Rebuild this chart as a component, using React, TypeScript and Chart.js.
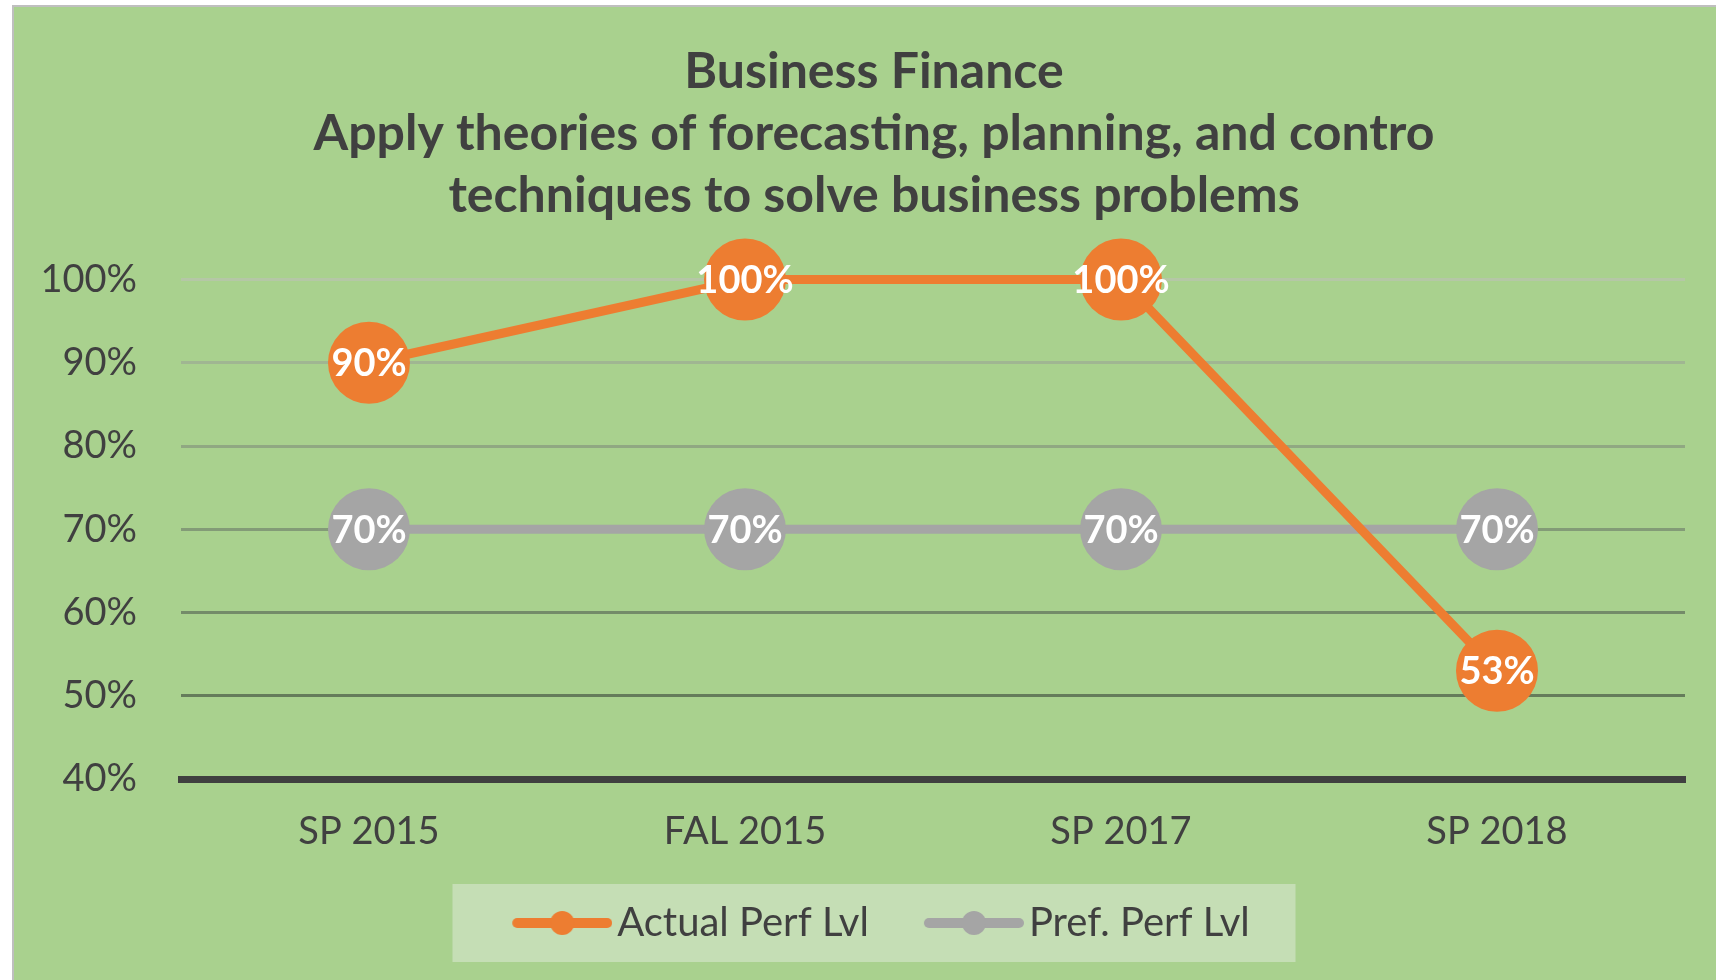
import React, { useEffect, useRef } from "react";
import { Chart, registerables } from "chart.js";

Chart.register(...registerables);

const categories = ["SP 2015", "FAL 2015", "SP 2017", "SP 2018"];
const actualPerf = [90, 100, 100, 53];
const prefPerf = [70, 70, 70, 70];
const seriesNames = ["Actual Perf Lvl", "Pref. Perf Lvl"];
const titleLines = [
  "Business Finance",
  "Apply theories of forecasting, planning, and contro",
  "techniques to solve business problems",
];
const yMin = 40;
const yMax = 100;
const yStep = 10;

const ORANGE = "#ED7D31";
const GRAY = "#A5A5A5";
const TEXT = "#404040";
const GREEN = "#A9D18E";
const LEGEND_BG = "#C5DEB5";
const gridColors = ["rgba(0,0,0,0)", "#657c5b", "#748b69", "#839b77", "#90a882", "#a0b692", "#b5c7a6"];

const W = 1720;
const H = 966;
const BOTTOM_PAD = 20;
const LEGEND_PAD = 55;
const LEGEND_FONT = 40;
const MARKER_SHIFT = 15;
const LEGEND_NUDGE = 7;

function makeLegendMarker(color: string) {
  const c = document.createElement("canvas");
  c.width = 100 + MARKER_SHIFT;
  c.height = 30;
  const ctx = c.getContext("2d")!;
  const x0 = MARKER_SHIFT;
  ctx.strokeStyle = color;
  ctx.lineWidth = 10;
  ctx.lineCap = "round";
  ctx.beginPath();
  ctx.moveTo(x0 + 5, 15);
  ctx.lineTo(x0 + 95, 15);
  ctx.stroke();
  ctx.fillStyle = color;
  ctx.beginPath();
  ctx.arc(x0 + 50, 15, 12, 0, Math.PI * 2);
  ctx.fill();
  return c;
}

const legendBgPlugin = {
  id: "legendBg",
  afterLayout(chart: any) {
    const lg = chart.legend;
    if (!lg) return;
    lg.left += LEGEND_NUDGE;
    lg.right += LEGEND_NUDGE;
  },
  beforeDraw(chart: any) {
    const lg = chart.legend;
    if (!lg) return;
    const ctx = chart.ctx;
    const cx = (lg.left + lg.right) / 2 - LEGEND_NUDGE;
    const cy = lg.top + LEGEND_PAD + LEGEND_FONT / 2;
    ctx.save();
    ctx.fillStyle = LEGEND_BG;
    ctx.fillRect(cx - 421.5, cy - 39, 843, 78);
    ctx.restore();
  },
};

const pointLabelPlugin = {
  id: "pointLabels",
  afterDatasetsDraw(chart: any) {
    const ctx = chart.ctx;
    ctx.save();
    ctx.font = "bold 38px Lato";
    ctx.fillStyle = "#FFFFFF";
    ctx.textAlign = "center";
    ctx.textBaseline = "middle";
    chart.data.datasets.forEach((ds: any, di: number) => {
      const meta = chart.getDatasetMeta(di);
      meta.data.forEach((el: any, i: number) => {
        ctx.fillText(ds.data[i] + "%", el.x, el.y + 1);
      });
    });
    ctx.restore();
  },
};

export default function App() {
  const ref = useRef<HTMLCanvasElement>(null);
  useEffect(() => {
    const canvas = ref.current!;
    const markers = [makeLegendMarker(ORANGE), makeLegendMarker(GRAY)];
    const chart = new Chart(canvas, {
      type: "line",
      data: {
        labels: categories,
        datasets: [
          {
            label: seriesNames[0],
            data: actualPerf,
            borderColor: ORANGE,
            backgroundColor: ORANGE,
            borderWidth: 9,
            pointRadius: 41,
            pointHoverRadius: 41,
            pointBackgroundColor: ORANGE,
            pointBorderWidth: 0,
            pointStyle: "circle",
            clip: false,
            tension: 0,
          },
          {
            label: seriesNames[1],
            data: prefPerf,
            borderColor: GRAY,
            backgroundColor: GRAY,
            borderWidth: 9,
            pointRadius: 41,
            pointHoverRadius: 41,
            pointBackgroundColor: GRAY,
            pointBorderWidth: 0,
            pointStyle: "circle",
            clip: false,
            tension: 0,
          },
        ],
      },
      options: {
        responsive: false,
        maintainAspectRatio: false,
        animation: false,
        devicePixelRatio: 1,
        events: [],
        layout: { padding: { left: 49, right: 49, top: 0, bottom: BOTTOM_PAD } },
        plugins: {
          title: {
            display: true,
            text: titleLines,
            color: TEXT,
            font: { family: "Lato", size: 50, weight: "bold", lineHeight: 62 / 50 },
            padding: { top: 34, bottom: 52.5 },
          },
          legend: {
            position: "bottom",
            labels: {
              usePointStyle: true,
              pointStyleWidth: 70 + MARKER_SHIFT,
              padding: LEGEND_PAD,
              color: TEXT,
              font: { family: "Lato", size: LEGEND_FONT },
              generateLabels: (c: any) => {
                const items = (Chart.defaults.plugins.legend.labels as any).generateLabels(c);
                items.forEach((it: any, i: number) => {
                  it.pointStyle = markers[i];
                });
                return items;
              },
            },
          },
          tooltip: { enabled: false },
        },
        scales: {
          x: {
            offset: true,
            grid: { display: false, drawTicks: false },
            border: { display: true, color: TEXT, width: 7 },
            ticks: { color: TEXT, font: { family: "Lato", size: 38 }, padding: 30 },
            afterFit: (s: any) => {
              s.height = 69;
              s._computeLabelArea = () => null;
            },
          },
          y: {
            min: yMin,
            max: yMax,
            ticks: {
              stepSize: yStep,
              callback: (v: any) => v + "%",
              color: TEXT,
              font: { family: "Lato", size: 38 },
              padding: 44,
            },
            grid: {
              color: (ctx: any) => gridColors[ctx.index] || gridColors[gridColors.length - 1],
              lineWidth: 3,
              drawTicks: false,
            },
            border: { display: false },
            afterFit: (s: any) => {
              s.width = 118;
              s._computeLabelArea = () => null;
            },
          },
        },
      } as any,
      plugins: [legendBgPlugin, pointLabelPlugin],
    });
    return () => chart.destroy();
  }, []);

  return (
    <div
      style={{
        position: "fixed",
        left: 0,
        top: 0,
        width: "100vw",
        height: "100vh",
        overflow: "hidden",
        background: "#FFFFFF",
      }}
    >
      <div
        style={{
          position: "absolute",
          left: 12,
          top: 5,
          border: "2px solid #BFBFBF",
          background: GREEN,
          width: W,
          height: 1000,
        }}
      >
        <canvas ref={ref} width={W} height={H} style={{ display: "block", width: W, height: H }} />
      </div>
    </div>
  );
}
